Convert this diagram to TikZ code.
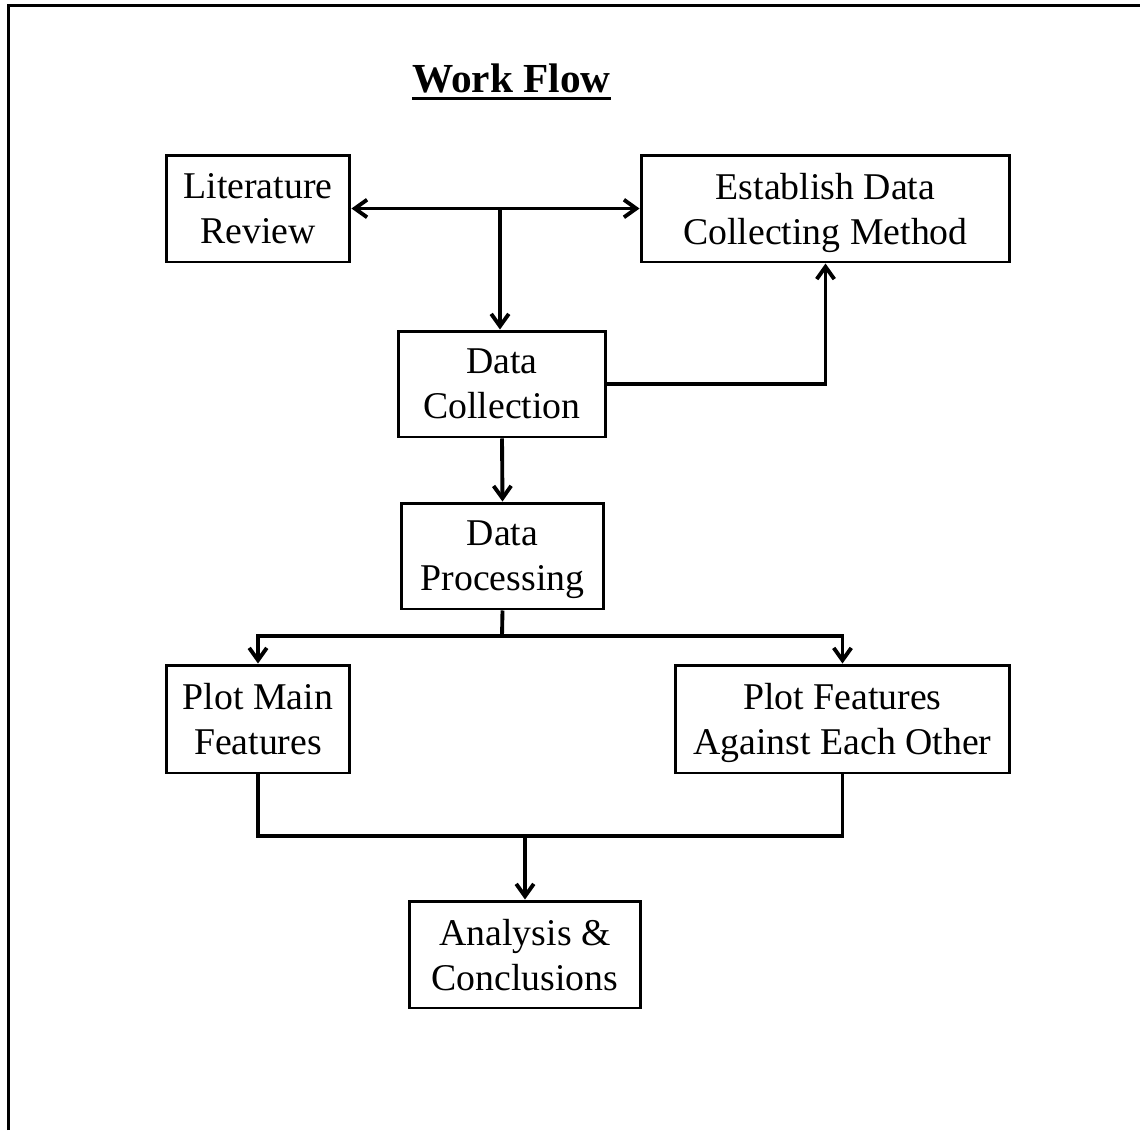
\documentclass[tikz,border=0pt]{standalone}
\usepackage{fontspec}
\setmainfont{Liberation Serif}
\usetikzlibrary{arrows.meta}
\begin{document}
\begin{tikzpicture}[x=0.02cm,y=-0.02cm,
  >={Straight Barb[length=7pt,width=10pt]},
  box/.style={draw, line width=1.7pt, align=center, inner sep=0pt,
    font=\fontsize{21.5}{25.5}\selectfont},
  conn/.style={line width=2.2pt},
  arr/.style={conn, ->}]
\useasboundingbox (0,0) rectangle (1140,1130);
\draw[line width=1.8pt] (8.5,1130) -- (8.5,5.5) -- (1140,5.5);
% title
\node[font=\fontsize{23.5}{28}\selectfont\bfseries, anchor=base, inner sep=0pt] (title) at (511.5,92) {Work Flow};
\draw[line width=1.6pt] (title.west |- 0,98.5) -- (title.east |- 0,98.5);
% boxes
\node[box, minimum width=3.68cm, minimum height=2.14cm] (lit) at (258,208.5) {Literature\\\smash{Review}};
\node[box, minimum width=7.38cm, minimum height=2.14cm] (est) at (825.5,208.5) {Establish Data\\\smash{Collecting Method}};
\node[box, minimum width=4.16cm, minimum height=2.12cm] (dc) at (502,384) {Data\\\smash{Collection}};
\node[box, minimum width=4.06cm, minimum height=2.12cm] (dp) at (502.5,556) {Data\\\smash{Processing}};
\node[box, minimum width=3.68cm, minimum height=2.16cm] (pm) at (258,719) {Plot Main\\\smash{Features}};
\node[box, minimum width=6.7cm, minimum height=2.16cm] (pf) at (842.5,719) {Plot Features\\\smash{Against Each Other}};
\node[box, minimum width=4.64cm, minimum height=2.14cm] (an) at (525,954.5) {Analysis \&\\\smash{Conclusions}};
% connectors
\coordinate (j1) at (500,208.5);
\coordinate (j2) at (502,636);
\coordinate (j3) at (525,836);
\draw[conn, <->] (lit.east) -- (est.west);
\draw[arr] (j1) -- (j1 |- dc.north);
\draw[arr] (dc.east) -| (est.south);
\draw[arr] (dc.south) -- (dp.north);
\draw[conn] (dp.south) -- (j2);
\draw[arr] (j2) -| (pm.north);
\draw[arr] (j2) -| (pf.north);
\draw[conn] (pm.south) |- (j3) -| (pf.south);
\draw[arr] (j3) -- (an.north);
\end{tikzpicture}
\end{document}
